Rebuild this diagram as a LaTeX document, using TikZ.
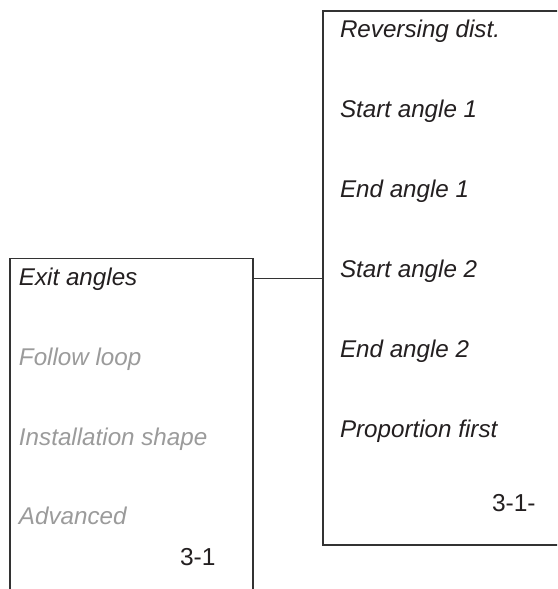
\documentclass[tikz,border=0pt]{standalone}
\usepackage{fontspec}
\setmainfont{Liberation Sans}
\definecolor{ink}{HTML}{231F20}
\definecolor{dim}{HTML}{9B9B9B}
\definecolor{frame}{HTML}{333333}
\begin{document}
\begin{tikzpicture}[x=1pt,y=-1pt,
  boxframe/.style={draw=frame,line width=1.2pt,rectangle,inner sep=0,outer sep=0,anchor=north west},
  item/.style={anchor=base west,inner sep=0,outer sep=0,font=\fontsize{24.2}{28}\selectfont\itshape,text=ink},
  itemdim/.style={item,text=dim},
  tag/.style={anchor=base west,inner sep=0,outer sep=0,font=\fontsize{24.5}{28}\selectfont,text=ink},
  link/.style={draw=frame,line width=1.2pt}]
\useasboundingbox (0,0) rectangle (557,589);
\clip (0,0) rectangle (557,589);
\fill[white] (0,0) rectangle (557,589);
% boxes (extend past the picture's edge)
\node[boxframe,minimum width=243pt,minimum height=360pt] (lbox) at (10,258.5) {};
\node[boxframe,minimum width=260pt,minimum height=534pt] (rbox) at (323,11) {};
% left box texts
\node[item] (exit) at (19,285.5) {Exit angles};
\node[itemdim] (follow) at (19,365.5) {Follow loop};
\node[itemdim] (install) at (19,445.5) {Installation shape};
\node[itemdim] (adv) at (19,524.5) {Advanced};
\node[tag] (lnum) at (180,565) {3-1};
% right box texts
\node[item] (rev) at (340,37.5) {Reversing dist.};
\node[item] (sa1) at (340,117.5) {Start angle 1};
\node[item] (ea1) at (340,197.5) {End angle 1};
\node[item] (sa2) at (340,277.5) {Start angle 2};
\node[item] (ea2) at (340,357.5) {End angle 2};
\node[item] (prop) at (340,437.5) {Proportion first};
\node[tag] (rnum) at (492,511) {3-1-};
% connector
\coordinate (lvl) at (0,278.3);
\draw[link] (lbox.east |- lvl) -- (rbox.west |- lvl);
\end{tikzpicture}
\end{document}
